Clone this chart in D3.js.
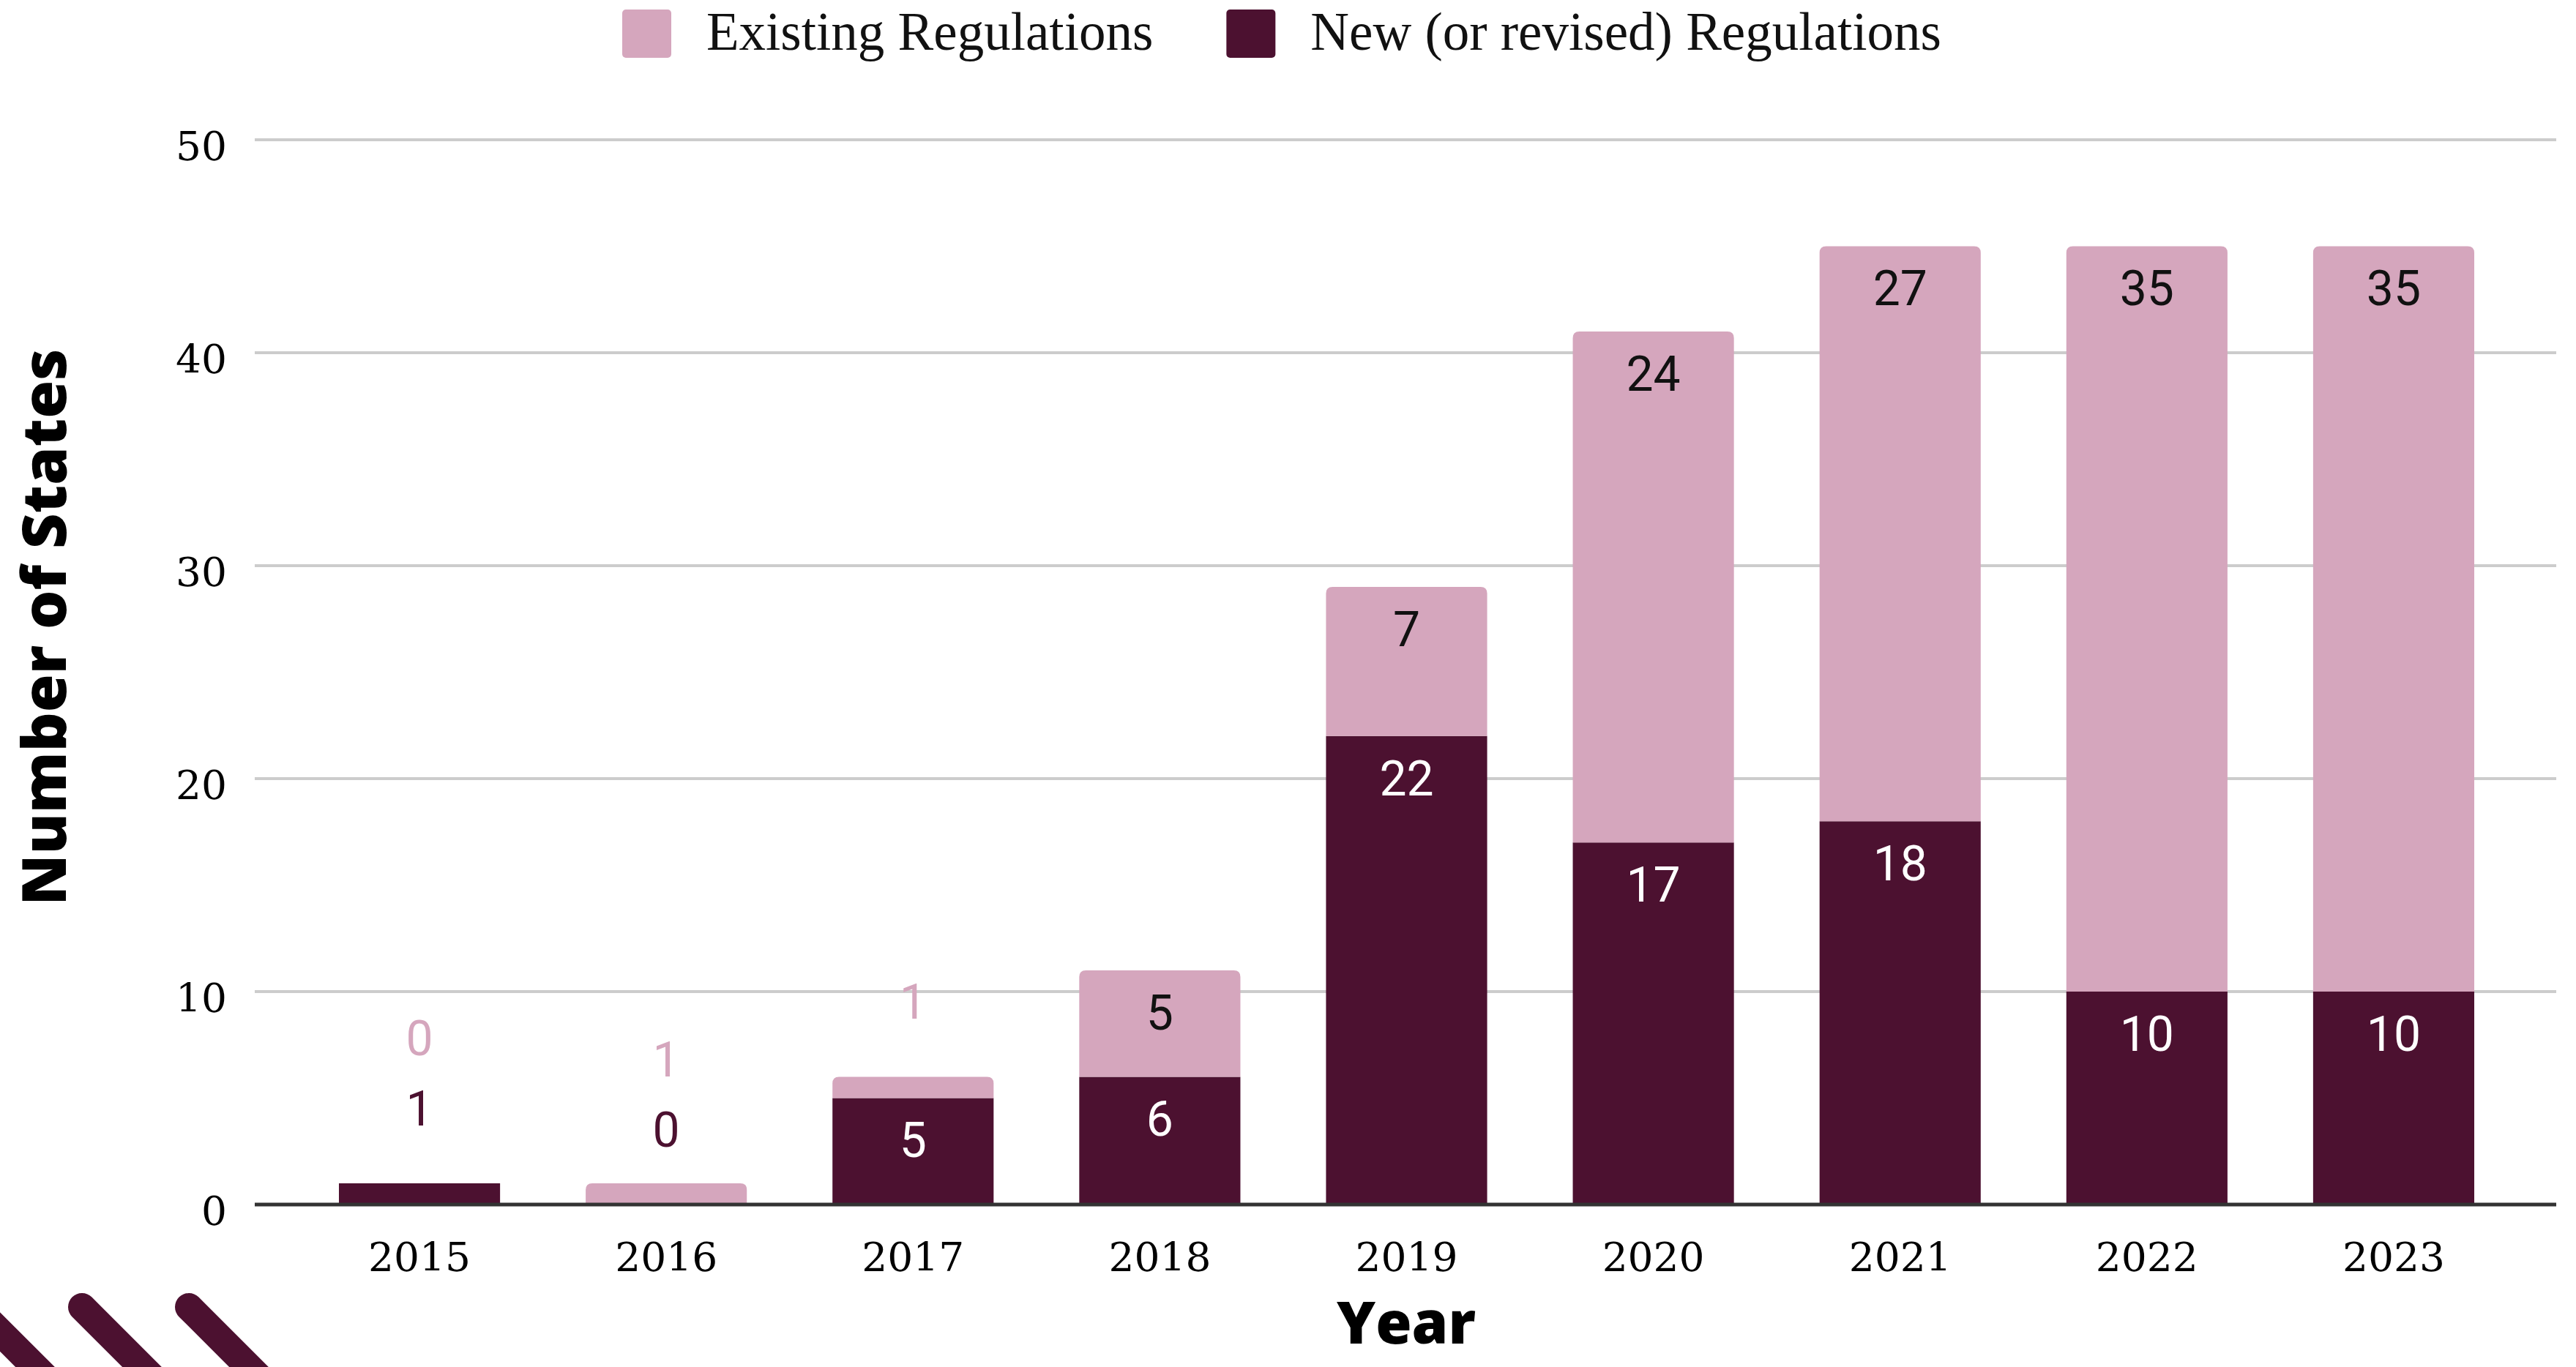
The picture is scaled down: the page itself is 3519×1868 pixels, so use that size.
<!DOCTYPE html>
<html>
<head>
<meta charset="utf-8">
<script src="https://cdn.jsdelivr.net/npm/d3@7"></script>
<style>
    body { margin: 0; background: #fff; overflow: hidden; }
    svg { display: block; }
</style>
</head>
<body>
<div id="chart"></div>
<script>
// Data
const years = ["2015", "2016", "2017", "2018", "2019", "2020", "2021", "2022", "2023"];
const newRegulations = [1, 0, 5, 6, 22, 17, 18, 10, 10];
const existingRegulations = [0, 1, 1, 5, 7, 24, 27, 35, 35];
const yTicks = [0, 10, 20, 30, 40, 50];
const seriesNames = ["Existing Regulations", "New (or revised) Regulations"];

// Constants for the chart
const WIDTH = 3519;
const HEIGHT = 1868;
const PLOT = { left: 348, right: 3492, top: 191, bottom: 1646 };
const DARK = "#4c1130";
const PINK = "#d5a6bd";

const svg = d3.select("#chart").append("svg")
    .attr("width", WIDTH)
    .attr("height", HEIGHT);

const x = d3.scaleBand()
    .domain(years)
    .range([404.5, 3438.5])
    .paddingInner(0.347)
    .paddingOuter(0.1735);

const y = d3.scaleLinear()
    .domain([0, 50])
    .range([PLOT.bottom, PLOT.top]);

// stack: new regulations at the bottom, existing on top
const rows = years.map((yr, i) => ({ year: yr, newRegs: newRegulations[i], existing: existingRegulations[i] }));
const stacked = d3.stack().keys(["newRegs", "existing"])(rows);

// Gridlines
svg.append("g").selectAll("line")
    .data(yTicks.filter(t => t > 0))
    .join("line")
    .attr("x1", PLOT.left).attr("x2", PLOT.right)
    .attr("y1", d => y(d)).attr("y2", d => y(d))
    .attr("stroke", "#cccccc")
    .attr("stroke-width", 4);

// Y axis labels
const yAxis = svg.append("g")
    .attr("transform", `translate(${PLOT.left - 38},0)`)
    .call(d3.axisLeft(y).tickValues(yTicks).tickSize(0).tickPadding(0));
yAxis.select(".domain").remove();
yAxis.selectAll("text")
    .attr("font-family", "DejaVu Serif")
    .attr("font-size", 55)
    .attr("fill", "#000")
    .attr("dy", "0.5em");

// Bars
const rectPath = (x0, y0, w, h, r) => {
    if (h <= 0) return "";
    r = Math.min(r, h, w / 2);
    return `M${x0},${y0 + h}V${y0 + r}Q${x0},${y0} ${x0 + r},${y0}H${x0 + w - r}Q${x0 + w},${y0} ${x0 + w},${y0 + r}V${y0 + h}Z`;
};

svg.append("g").selectAll("g")
    .data(stacked)
    .join("g")
    .attr("fill", d => d.key === "newRegs" ? DARK : PINK)
    .selectAll("path")
    .data(d => d.map(s => Object.assign(s, { key: d.key })))
    .join("path")
    .attr("d", d => rectPath(x(d.data.year), y(d[1]), x.bandwidth(), y(d[0]) - y(d[1]), d.key === "existing" ? 9 : 0));

// Zero baseline
svg.append("line")
    .attr("x1", PLOT.left).attr("x2", PLOT.right)
    .attr("y1", y(0)).attr("y2", y(0))
    .attr("stroke", "#333")
    .attr("stroke-width", 5);

// Data labels, inside the segment when it fits, otherwise stacked above the bar
const labels = [];
years.forEach((yr, i) => {
    let prevOutside = null;
    stacked.forEach(series => {
        const seg = series[i];
        const val = seg.data[series.key];
        const top = y(seg[1]);
        const h = y(seg[0]) - top;
        const isNew = series.key === "newRegs";
        if (h >= 70) {
            labels.push({ year: yr, text: val, cy: top + 57, fill: isNew ? "#fff" : "#111" });
        } else {
            let cy = top - 103;
            if (prevOutside !== null && prevOutside - cy < 96) cy = prevOutside - 96;
            prevOutside = cy;
            labels.push({ year: yr, text: val, cy: cy, fill: isNew ? DARK : PINK });
        }
    });
});

svg.append("g").selectAll("text")
    .data(labels)
    .join("text")
    .attr("x", d => x(d.year) + x.bandwidth() / 2)
    .attr("y", d => d.cy)
    .attr("dy", "0.36em")
    .attr("text-anchor", "middle")
    .attr("font-family", "Roboto")
    .attr("font-size", 66)
    .attr("fill", d => d.fill)
    .text(d => d.text);

// X axis labels
const xAxis = svg.append("g")
    .attr("transform", `translate(0,${PLOT.bottom})`)
    .call(d3.axisBottom(x).tickSize(0).tickPadding(0));
xAxis.select(".domain").remove();
xAxis.selectAll("text")
    .attr("font-family", "DejaVu Serif")
    .attr("font-size", 55)
    .attr("fill", "#000")
    .attr("dy", null)
    .attr("y", 91);

// Axis titles
svg.append("text")
    .attr("x", 1921).attr("y", 1836)
    .attr("text-anchor", "middle")
    .attr("font-family", "Open Sans")
    .attr("font-weight", 800)
    .attr("font-size", 80)
    .attr("fill", "#000")
    .text("Year");

svg.append("text")
    .attr("transform", "translate(90,857) rotate(-90)")
    .attr("text-anchor", "middle")
    .attr("font-family", "Open Sans")
    .attr("font-weight", 800)
    .attr("font-size", 84)
    .attr("fill", "#000")
    .text("Number of States");

// Legend
const legend = svg.append("g");
let lx = 850;
seriesNames.forEach((name, i) => {
    legend.append("rect")
        .attr("x", lx).attr("y", 13)
        .attr("width", 67).attr("height", 66)
        .attr("rx", 5)
        .attr("fill", i === 0 ? PINK : DARK);
    const t = legend.append("text")
        .attr("x", lx + 115).attr("y", 68)
        .attr("font-family", "Liberation Serif")
        .attr("font-size", 73)
        .attr("fill", "#111")
        .text(name);
    lx += 115 + t.node().getComputedTextLength() + 100;
});

// Decorative diagonal strokes bottom-left
svg.append("g").selectAll("line")
    .data([-34, 112, 258])
    .join("line")
    .attr("x1", d => d).attr("y1", 1786)
    .attr("x2", d => d + 140).attr("y2", 1926)
    .attr("stroke", DARK)
    .attr("stroke-width", 38)
    .attr("stroke-linecap", "round");
</script>
</body>
</html>
